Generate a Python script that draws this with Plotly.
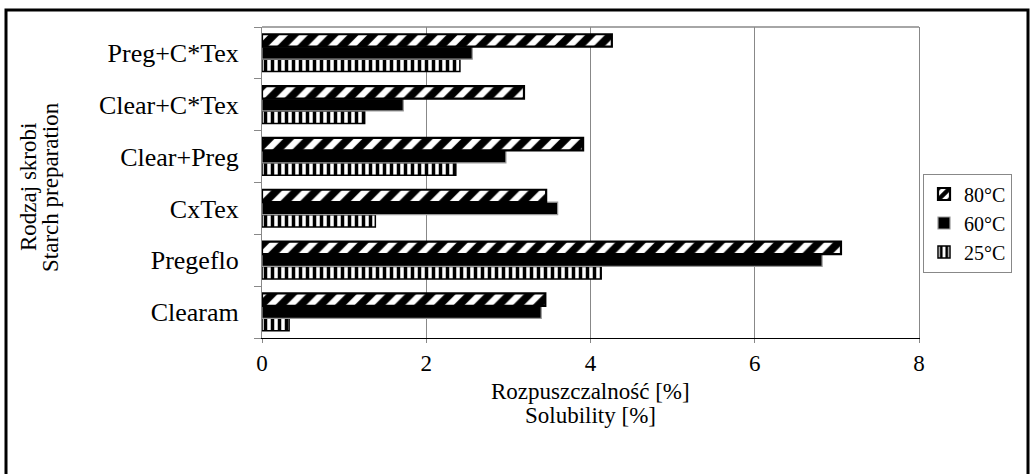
import plotly.graph_objects as go

categories = ["Clearam", "Pregeflo", "CxTex", "Clear+Preg", "Clear+C*Tex", "Preg+C*Tex"]
v25 = [0.33, 4.13, 1.38, 2.36, 1.25, 2.41]
v60 = [3.40, 6.82, 3.60, 2.97, 1.72, 2.56]
v80 = [3.45, 7.05, 3.46, 3.91, 3.19, 4.26]
x_ticks = [0, 2, 4, 6, 8]

FONT = "Liberation Serif, Times New Roman, serif"
FS = 23


def py(pix):
    # convert a pixel row to paper y (plot area spans rows 27..338)
    return (338 - pix) / 311


def px(pix):
    # convert a pixel column to paper x (plot area spans columns 262..919)
    return (pix - 262) / 657


fig = go.Figure()
fig.add_trace(go.Bar(
    y=categories, x=v25, orientation="h", name="25°C",
    marker=dict(color="white", line=dict(color="black", width=1.5),
                pattern=dict(shape="|", fgcolor="black", bgcolor="white", fgopacity=1,
                             size=7, solidity=0.5)),
))
fig.add_trace(go.Bar(
    y=categories, x=v60, orientation="h", name="60°C",
    marker=dict(color="black", line=dict(color="#999999", width=1.2)),
))
fig.add_trace(go.Bar(
    y=categories, x=v80, orientation="h", name="80°C",
    marker=dict(color="white", line=dict(color="black", width=2.2),
                pattern=dict(shape="/", fgcolor="black", bgcolor="white", fgopacity=1,
                             size=14, solidity=0.55)),
))

fig.update_layout(
    width=1032, height=474,
    margin=dict(l=262, r=113, t=27, b=136),
    paper_bgcolor="white", plot_bgcolor="white",
    font=dict(family=FONT, size=FS, color="black"),
    barmode="group", bargap=0.28, bargroupgap=0,
    showlegend=True,
    legend=dict(
        traceorder="reversed", x=px(923), y=py(223), xanchor="left", yanchor="middle",
        bordercolor="#888888", borderwidth=1, bgcolor="white",
        font=dict(family=FONT, size=20, color="black"),
        itemwidth=30, tracegroupgap=0,
    ),
    xaxis=dict(
        range=[0, 8], tickvals=x_ticks, ticktext=[str(t) for t in x_ticks],
        showgrid=True, gridcolor="#888888", gridwidth=1,
        showline=True, linecolor="black", linewidth=1,
        ticks="outside", ticklen=4, tickcolor="#888888",
        zeroline=False, fixedrange=True,
        tickfont=dict(family=FONT, size=23),
    ),
    yaxis=dict(
        type="category", categoryorder="array", categoryarray=categories,
        showline=True, linecolor="#888888", linewidth=1, mirror=True,
        ticks="outside", ticklen=7, tickcolor="#888888", tickson="boundaries",
        showgrid=False, fixedrange=True, ticklabelstandoff=17,
        tickfont=dict(family=FONT, size=26),
    ),
    shapes=[
        dict(type="line", xref="paper", yref="paper", x0=0, x1=1, y0=1, y1=1,
             line=dict(color="#888888", width=1.5)),
        dict(type="rect", xref="paper", yref="paper",
             x0=px(6), x1=px(1028), y0=py(490), y1=py(10),
             line=dict(color="black", width=3), fillcolor="rgba(0,0,0,0)", layer="above"),
    ],
    annotations=[
        dict(text="Rozpuszczalność [%]", xref="paper", yref="paper",
             x=px(590), y=py(391), xanchor="center", yanchor="middle", showarrow=False,
             font=dict(family=FONT, size=FS, color="black")),
        dict(text="Solubility [%]", xref="paper", yref="paper",
             x=px(590), y=py(415), xanchor="center", yanchor="middle", showarrow=False,
             font=dict(family=FONT, size=FS, color="black")),
        dict(text="Rodzaj skrobi", xref="paper", yref="paper",
             x=px(28), y=py(187), xanchor="center", yanchor="middle", showarrow=False,
             textangle=-90, font=dict(family=FONT, size=FS, color="black")),
        dict(text="Starch preparation", xref="paper", yref="paper",
             x=px(50), y=py(187), xanchor="center", yanchor="middle", showarrow=False,
             textangle=-90, font=dict(family=FONT, size=FS, color="black")),
    ],
)

fig.write_html("out.html")
